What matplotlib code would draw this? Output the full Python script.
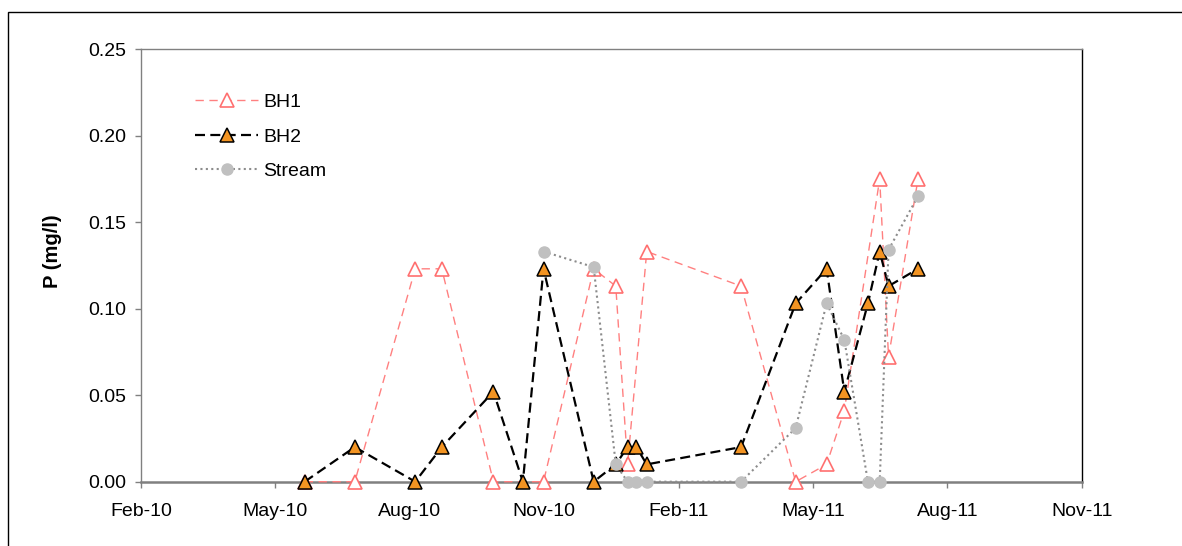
import matplotlib
matplotlib.use("Agg")
import matplotlib.pyplot as plt
import matplotlib.dates as mdates
from matplotlib.patches import Rectangle
import numpy as np
from datetime import datetime

plt.rcParams['font.family'] = ['Liberation Sans', 'DejaVu Sans']

# ---- data ----
bh1_dates = ["2010-05-23", "2010-06-26", "2010-08-06", "2010-08-24", "2010-09-28",
             "2010-11-01", "2010-12-05", "2010-12-20", "2010-12-28", "2011-01-10",
             "2011-03-15", "2011-04-21", "2011-05-12", "2011-05-24", "2011-06-17",
             "2011-06-23", "2011-07-13"]
bh1_vals = [0.0, 0.0, 0.123, 0.123, 0.0,
            0.0, 0.123, 0.113, 0.010, 0.133,
            0.113, 0.0, 0.010, 0.041, 0.175,
            0.072, 0.175]

bh2_dates = ["2010-05-23", "2010-06-26", "2010-08-06", "2010-08-24", "2010-09-28",
             "2010-10-18", "2010-11-01", "2010-12-05", "2010-12-20", "2010-12-28",
             "2011-01-03", "2011-01-10", "2011-03-15", "2011-04-21", "2011-05-12",
             "2011-05-24", "2011-06-09", "2011-06-17", "2011-06-23", "2011-07-13"]
bh2_vals = [0.0, 0.020, 0.0, 0.020, 0.052,
            0.0, 0.123, 0.0, 0.010, 0.020,
            0.020, 0.010, 0.020, 0.103, 0.123,
            0.052, 0.103, 0.133, 0.113, 0.123]

stream_dates = ["2010-11-01", "2010-12-05", "2010-12-20", "2010-12-28", "2011-01-03",
                "2011-01-10", "2011-03-15", "2011-04-21", "2011-05-12", "2011-05-24",
                "2011-06-09", "2011-06-17", "2011-06-23", "2011-07-13"]
stream_vals = [0.133, 0.124, 0.010, 0.0, 0.0,
               0.0, 0.0, 0.031, 0.103, 0.082,
               0.0, 0.0, 0.134, 0.165]

x_tick_labels = ["Feb-10", "May-10", "Aug-10", "Nov-10", "Feb-11", "May-11", "Aug-11", "Nov-11"]
x_start, x_end = "2010-02-01", "2011-11-01"
y_ticks = [0.00, 0.05, 0.10, 0.15, 0.20, 0.25]

def to_dt(lst):
    return [datetime.strptime(s, "%Y-%m-%d") for s in lst]

W, H = 1182, 546
fig = plt.figure(figsize=(W / 100, H / 100), dpi=100)
ax = fig.add_axes([141 / W, 64.3 / H, (1081.7 - 141) / W, (481.7 - 49) / H])

ax.plot(to_dt(bh1_dates), bh1_vals, color='#FF8080', lw=1.0, dashes=(6, 4),
        marker='^', markersize=9.5, markerfacecolor='white', markeredgecolor='#FF7070',
        markeredgewidth=1.2, label='BH1', zorder=3, clip_on=False)
ax.plot(to_dt(bh2_dates), bh2_vals, color='black', lw=1.6, dashes=(4.5, 2.4),
        marker='^', markersize=9.5, markerfacecolor='#F39422', markeredgecolor='black',
        markeredgewidth=1.1, label='BH2', zorder=4, clip_on=False)
ax.plot(to_dt(stream_dates), stream_vals, color='#8C8C8C', lw=1.5, dashes=(1.0, 1.6),
        marker='o', markersize=8, markerfacecolor='#C0C0C0', markeredgecolor='#C0C0C0',
        label='Stream', zorder=5, clip_on=False)

x0 = mdates.date2num(datetime.strptime(x_start, "%Y-%m-%d"))
x1 = mdates.date2num(datetime.strptime(x_end, "%Y-%m-%d"))
ax.set_xlim(x0, x1)
ax.set_xticks(np.linspace(x0, x1, len(x_tick_labels)))
ax.set_xticklabels(x_tick_labels)
ax.set_ylim(0, 0.25)
ax.set_yticks(y_ticks)
ax.set_yticklabels([f"{v:.2f}" for v in y_ticks])

for s in ['left', 'top', 'bottom']:
    ax.spines[s].set_color('#808080')
    ax.spines[s].set_linewidth(1.0)
ax.spines['bottom'].set_linewidth(1.8)
ax.spines['right'].set_color('black')
ax.spines['right'].set_linewidth(1.0)

ax.tick_params(axis='both', direction='out', length=4.3, width=1, color='#808080',
               labelsize=14, labelcolor='black')
ax.tick_params(axis='y', pad=6.5)
ax.tick_params(axis='x', pad=11)

ax.set_ylabel('P (mg/l)', fontsize=14.5, fontweight='bold', va='center', ha='center')
ax.yaxis.set_label_coords((52 - 141) / 940.7, (481.7 - 251) / 432.7)

leg = ax.legend(loc='upper left', bbox_to_anchor=(0.0574, 0.897), frameon=False,
                fontsize=14, handlelength=3.25, handletextpad=0.26, labelspacing=0.86,
                borderpad=0, borderaxespad=0)

fig.patches.append(Rectangle((8 / W, -0.05), 1.2, 1 - 12 / H + 0.05,
                             transform=fig.transFigure, fill=False,
                             edgecolor='black', lw=1.0))

fig.savefig('out.png', dpi=100)
